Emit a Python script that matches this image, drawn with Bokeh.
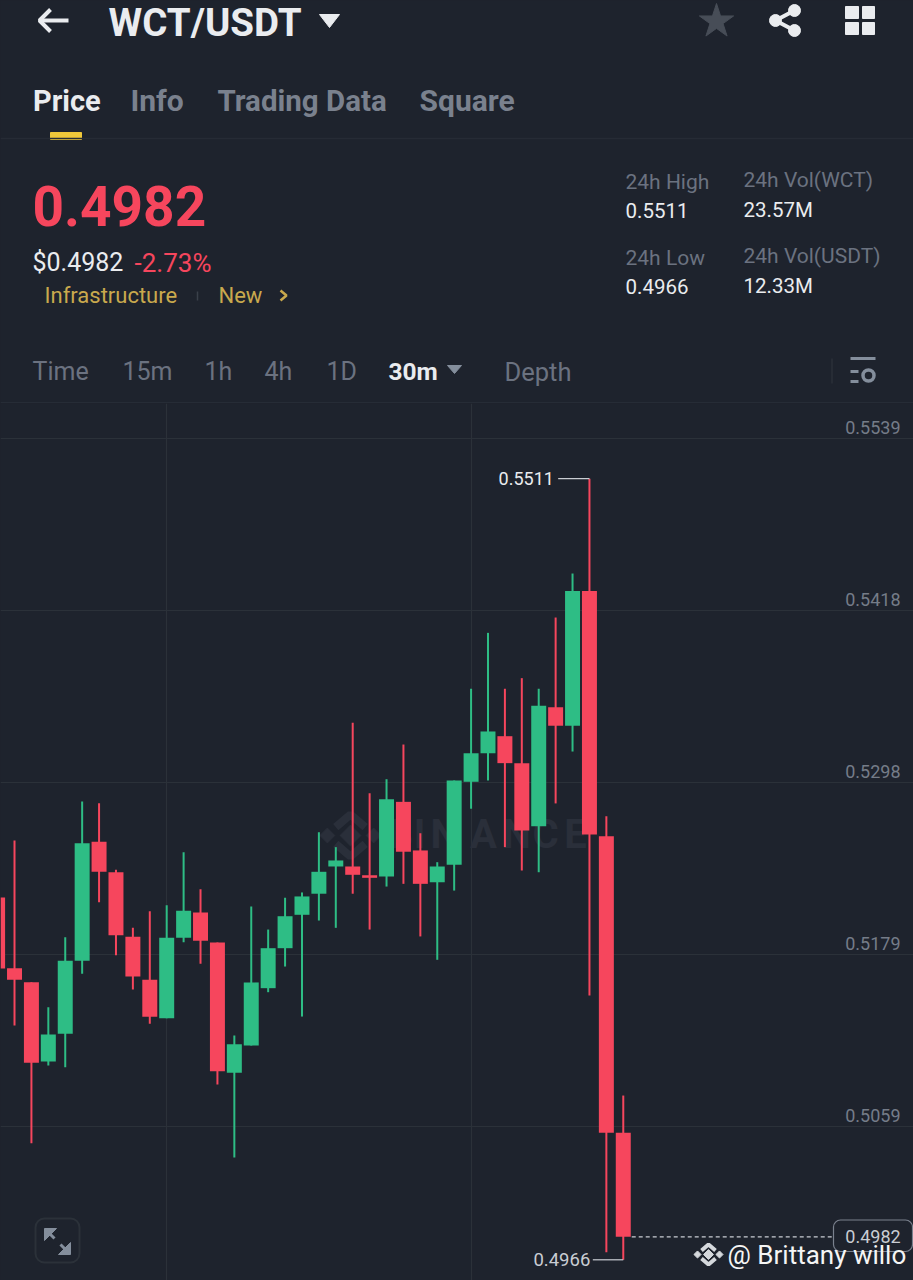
from bokeh.plotting import figure
from bokeh.layouts import column
from bokeh.models import Range1d, FixedTicker, Grid, LinearAxis, ColumnDataSource
from bokeh.core.properties import value
from bokeh.embed import file_html
from bokeh.resources import INLINE
import math

highs = [.52236,.52585,.51597,.51422,.51911,.52857,.52846,.52381,.51976,.52092,.52134,.52504,.52246,.51874,.51225,.52125,.51964,.52186,.52223,.52643,.52539,.53407,.52915,.53013,.53255,.52636,.52434,.53004,.53644,.54034,.53644,.53718,.53644,.54141,.54448,.5511,.52755,.50806]
opens = [.52188,.51694,.51597,.51043,.51237,.51746,.52576,.52364,.51913,.51614,.51346,.51907,.52083,.51874,.50965,.51155,.51555,.51834,.52067,.52214,.52404,.52404,.52343,.52334,.52855,.52516,.52294,.52416,.52995,.53194,.53313,.53125,.52685,.53515,.53386,.54326,.52615,.50546]
closes = [.51692,.51614,.51034,.51232,.51746,.52567,.52367,.51925,.51637,.51355,.51907,.52095,.51886,.50976,.51164,.51595,.51834,.52057,.52195,.52367,.52446,.52346,.52325,.52874,.52507,.52283,.52404,.53004,.53194,.53346,.53125,.52655,.53525,.53386,.54326,.52627,.50546,.4982]
lows = [.51644,.51295,.50473,.51016,.51004,.51655,.52155,.51785,.51546,.51307,.51346,.51876,.51725,.50883,.50374,.51155,.51527,.51706,.51357,.52027,.51976,.52214,.51964,.52264,.52283,.51916,.51753,.52236,.52807,.53004,.52539,.52376,.52364,.52844,.53206,.51504,.49713,.4966]
tick_values = [0.5539, 0.5419, 0.5299, 0.5179, 0.5059]
tick_labels = ["0.5539", "0.5418", "0.5298", "0.5179", "0.5059"]
last_price = 0.4982
day_high = 0.5511
day_low = 0.4966

BG = "#1E232D"
GREEN = "#2EBD85"
RED = "#F6465D"
GRID = "#2B3139"
FONT = "Roboto"
W = 913
HEAD_H = 403
CHART_H = 877

# ---------------- header ----------------
h = figure(width=W, height=HEAD_H, x_range=Range1d(0, W), y_range=Range1d(HEAD_H, 0),
           x_axis_location=None, y_axis_location=None, toolbar_location=None,
           output_backend="svg", background_fill_color=BG, border_fill_color=BG,
           min_border=0, outline_line_color=None, tools="")
h.grid.visible = False

WHITE = "#EAECEF"
GREY = "#848E9C"
DIM = "#6B7280"
YEL = "#C9A94D"
TAB = "#7A818E"
texts = [
    ("WCT/USDT", 108, 22, 38.5, "bold", WHITE),
    ("Price", 32.5, 100, 29, "bold", WHITE),
    ("Info", 130, 100, 30, "bold", TAB),
    ("Trading Data", 217, 100, 29.5, "bold", TAB),
    ("Square", 419, 100, 30, "bold", TAB),
    ("0.4982", 32, 205, 55, "bold", RED),
    ("$0.4982", 32, 262, 25, "normal", WHITE),
    ("-2.73%", 134, 262, 26, "normal", RED),
    ("Infrastructure", 44, 295, 22, "normal", YEL),
    ("New", 218, 295, 22, "normal", YEL),
    ("24h High", 625, 181, 21, "normal", DIM),
    ("0.5511", 625, 210, 20.5, "normal", WHITE),
    ("24h Vol(WCT)", 743, 179, 21, "normal", DIM),
    ("23.57M", 743, 209, 20.5, "normal", WHITE),
    ("24h Low", 625, 257, 21, "normal", DIM),
    ("0.4966", 625, 286, 20.5, "normal", WHITE),
    ("24h Vol(USDT)", 743, 255, 21, "normal", DIM),
    ("12.33M", 743, 285, 20.5, "normal", WHITE),
    ("Time", 32, 371, 25, "normal", DIM),
    ("15m", 122, 371, 25, "normal", DIM),
    ("1h", 204, 371, 25, "normal", DIM),
    ("4h", 264, 371, 25, "normal", DIM),
    ("1D", 326, 371, 25, "normal", DIM),
    ("30m", 388, 371, 24.5, "bold", WHITE),
    ("Depth", 504, 371, 25.5, "normal", DIM),
]
for t, x, y, size, style, col in texts:
    h.text([x], [y], text=[t], text_font=value(FONT), text_font_size=f"{size}px",
            text_font_style=style, text_color=col, text_baseline="middle", text_align="left")

# back arrow
h.line([39, 68], [20, 20], line_color=WHITE, line_width=4)
h.line([50, 39, 50], [9, 20, 31], line_color=WHITE, line_width=4)
# dropdown triangles
h.patch([319, 339, 329], [14, 14, 27], color=WHITE)
h.patch([447, 461, 454], [365, 365, 373], color=GREY)
# star
h.scatter([716], [21], marker="star", size=36, color="#474D57")
# share icon
h.multi_line([[794, 775, 794]], [[10, 20, 30]], line_color=WHITE, line_width=4)
h.scatter([794, 775, 794], [10, 20, 30], marker="circle", size=12, color=WHITE)
# grid icon
h.quad(left=[845, 862, 845, 862], right=[858, 874, 858, 874], top=[6, 6, 22, 22],
       bottom=[18, 18, 34, 34], color=WHITE)
# tab underline and separators
h.quad(left=[50], right=[81], top=[132], bottom=[139], color="#F0C83A")
h.line([0, W], [138, 138], line_color="#262B35", line_width=1.5)
h.line([0, W], [402.5, 402.5], line_color="#2A303A", line_width=1.5)
h.line([197, 197], [291, 300], line_color="#3A404A", line_width=1.5)
h.line([280, 286, 280], [290, 295, 300], line_color=YEL, line_width=2.5)
h.line([831.5, 831.5], [358, 383], line_color="#2B3139", line_width=1.5)
# settings icon
h.line([850, 875], [358, 358], line_color=GREY, line_width=3)
h.line([850, 858], [371, 371], line_color=GREY, line_width=3)
h.line([850, 858], [381, 381], line_color=GREY, line_width=3)
h.scatter([868], [375], marker="circle", size=11, fill_color=BG, line_color=GREY, line_width=3.5)

# ---------------- chart ----------------
PX0, PX_STEP = -2.9, 16.91
PRICE_PER_PX = 0.012 / 172
def xd(px):
    return (px - PX0) / PX_STEP
def yd(py):
    return tick_values[0] - (py - 438) * PRICE_PER_PX

ymax, ymin = yd(403), yd(1280)
shift = 11 * PRICE_PER_PX
p = figure(width=W, height=CHART_H, x_range=Range1d(xd(0), xd(W)), y_range=Range1d(ymin, ymax),
           x_axis_location=None, y_axis_location=None, toolbar_location=None,
           output_backend="svg", background_fill_color=BG, border_fill_color=BG,
           min_border=0, outline_line_color=None, tools="")
p.grid.visible = False
p.extra_y_ranges = {"labels": Range1d(ymin - shift, ymax - shift)}
p.add_layout(Grid(dimension=1, ticker=FixedTicker(ticks=tick_values),
                  grid_line_color=GRID, grid_line_width=1.2))
p.add_layout(Grid(dimension=0, ticker=FixedTicker(ticks=[10, 28]),
                  grid_line_color=GRID, grid_line_width=1.2))
axis = LinearAxis(y_range_name="labels", fixed_location=xd(906),
                  ticker=FixedTicker(ticks=tick_values),
                  major_label_overrides=dict(zip(tick_values, tick_labels)),
                  axis_line_color=None, major_tick_line_color=None, minor_tick_line_color=None,
                  major_label_standoff=0, major_label_text_color="#757C88",
                  major_label_text_font=FONT, major_label_text_font_size="18px")
p.add_layout(axis, "left")

def logo(cx, cy, s, col, lw):
    p.scatter([xd(cx), xd(cx - 11 * s), xd(cx + 11 * s)], [yd(cy)] * 3, marker="square",
              size=[7 * s, 5 * s, 5 * s], angle=math.pi / 4, color=col)
    p.multi_line([[xd(cx - 7 * s), xd(cx), xd(cx + 7 * s)], [xd(cx - 7 * s), xd(cx), xd(cx + 7 * s)]],
                 [[yd(cy - 4 * s), yd(cy - 10 * s), yd(cy - 4 * s)], [yd(cy + 4 * s), yd(cy + 10 * s), yd(cy + 4 * s)]],
                 line_color=col, line_width=lw)

# watermark
WM = "#2A2F3A"
logo(350, 835, 2.1, WM, 8)
for letter, cx in zip("BINANCE", [400, 419, 444, 483, 516, 545, 575]):
    p.text([xd(cx)], [yd(834)], text=[letter], text_font=value(FONT), text_font_size="40px",
           text_font_style="bold", text_color=WM, text_baseline="middle", text_align="center")

idx = list(range(len(opens)))
colors = [GREEN if c >= o else RED for o, c in zip(opens, closes)]
src = ColumnDataSource(dict(x=idx, o=opens, c=closes, h=highs, l=lows, col=colors,
                            top=[max(a, b) for a, b in zip(opens, closes)],
                            bot=[min(a, b) for a, b in zip(opens, closes)]))
p.segment(x0="x", x1="x", y0="l", y1="h", line_color="col", line_width=2, source=src)
p.vbar(x="x", top="top", bottom="bot", width=0.886, fill_color="col", line_color=None, source=src)

# high / low markers
LBL = "#C9CDD3"
hi_i = highs.index(day_high)
lo_i = lows.index(day_low)
p.line([hi_i - 1.85, hi_i], [day_high, day_high], line_color=LBL, line_width=1.2)
p.text([hi_i - 2.1], [day_high], text=[f"{day_high:.4f}"], text_font=value(FONT), text_font_size="18px",
       text_color=WHITE, text_baseline="middle", text_align="right")
p.line([lo_i - 1.8, lo_i], [day_low, day_low], line_color=LBL, line_width=1.2)
p.text([lo_i - 1.95], [day_low], text=[f"{day_low:.4f}"], text_font=value(FONT), text_font_size="18.5px",
       text_color=LBL, text_baseline="middle", text_align="right")

# last price
p.line([len(opens) - 0.5, xd(833)], [last_price, last_price], line_color=LBL, line_width=1.2, line_dash="4 3")
p.quad(left=[xd(833)], right=[xd(912)], top=[yd(1219.5)], bottom=[yd(1251)], fill_color=BG,
       line_color="#7A818E", line_width=1.2, border_radius=7)
p.text([xd(872.5)], [last_price], text=[f"{last_price:.4f}"], text_font=value(FONT), text_font_size="18px",
       text_color=LBL, text_baseline="middle", text_align="center")

# expand icon
p.quad(left=[xd(35)], right=[xd(79)], top=[yd(1218)], bottom=[yd(1262)], fill_color=BG,
       line_color=GRID, line_width=2, border_radius=9)
p.patch([xd(44), xd(56), xd(44)], [yd(1228), yd(1228), yd(1240)], color=GREY)
p.patch([xd(70), xd(58), xd(70)], [yd(1254), yd(1254), yd(1242)], color=GREY)
p.line([xd(47), xd(54)], [yd(1231), yd(1238)], line_color=GREY, line_width=3)
p.line([xd(60), xd(67)], [yd(1244), yd(1251)], line_color=GREY, line_width=3)

# credit
logo(708, 1254, 1.0, "#D5D8DC", 4)
p.text([xd(727)], [yd(1254)], text=["@ Brittany willo"], text_font=value(FONT), text_font_size="26px",
       text_color="#F5F5F5", text_baseline="middle", text_align="left")

layout = column(h, p, spacing=0)
html = file_html(layout, INLINE)
html = html.replace("<head>", "<head><style>html,body{margin:0;background:#1E232D}</style>", 1)
open("out.html", "w").write(html)
